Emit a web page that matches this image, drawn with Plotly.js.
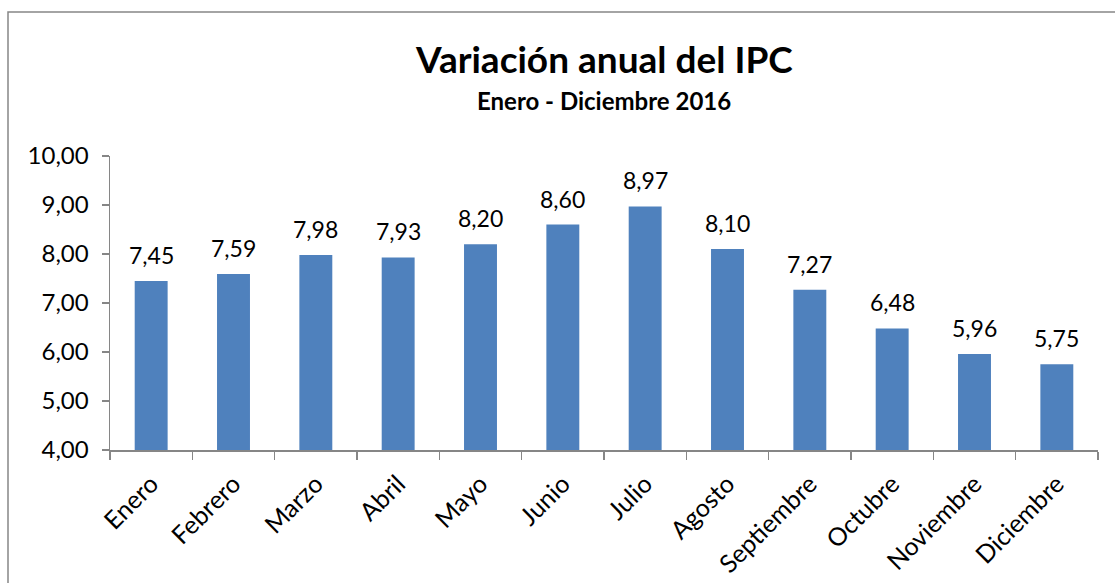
<!DOCTYPE html>
<html><head><meta charset="utf-8">
<script src="https://cdn.plot.ly/plotly-3.0.1.min.js"></script>
<style>html,body{margin:0;padding:0;background:#fff}#chart{width:1115px;height:583px}</style>
</head><body><div id="chart"></div>
<script>
const months = ["Enero","Febrero","Marzo","Abril","Mayo","Junio","Julio","Agosto","Septiembre","Octubre","Noviembre","Diciembre"];
const ipc = [7.45,7.59,7.98,7.93,8.20,8.60,8.97,8.10,7.27,6.48,5.96,5.75];
const yTicks = [4,5,6,7,8,9,10];
const yTickLabels = ["4,00","5,00","6,00","7,00","8,00","9,00","10,00"];
const titleText = "Variación anual del IPC";
const subtitleText = "Enero - Diciembre 2016";

const FONT = "Lato, 'Open Sans', sans-serif";
const fmt = v => v.toFixed(2).replace(".", ",");

const annotations = months.map((m,i)=>({
  x: m, y: ipc[i], xref:'x', yref:'y', text: fmt(ipc[i]), showarrow:false,
  yanchor:'bottom', yshift:10, font:{family:FONT,size:23,color:'#000'}
}));
annotations.push({xref:'paper',yref:'paper',x:0.5,y:1+(156-58)/294,text:'<b>'+titleText+'</b>',showarrow:false,yanchor:'middle',font:{family:FONT,size:37,color:'#000'}});
annotations.push({xref:'paper',yref:'paper',x:0.5,y:1+(156-100)/294,text:'<b>'+subtitleText+'</b>',showarrow:false,yanchor:'middle',font:{family:FONT,size:24,color:'#000'}});

const layout = {
  width:1115, height:583,
  margin:{l:110, r:17, t:156, b:133},
  paper_bgcolor:'#fff', plot_bgcolor:'#fff',
  showlegend:false,
  bargap:0.6,
  separators:',.',
  xaxis:{type:'category', showgrid:false, zeroline:false, showline:true, linecolor:'#868686', linewidth:1.5,
    ticks:'outside', tickson:'boundaries', ticklen:8, tickcolor:'#868686', tickwidth:1.5, ticklabelstandoff:8,
    tickangle:-45, tickfont:{family:FONT,size:25,color:'#000'}},
  yaxis:{range:[4,10], showgrid:false, zeroline:false, showline:true, linecolor:'#868686', linewidth:1.5,
    ticks:'outside', ticklen:7, tickcolor:'#868686', tickwidth:1.5, ticklabelstandoff:8,
    tickvals:yTicks, ticktext:yTickLabels, tickfont:{family:FONT,size:24,color:'#000'}},
  annotations: annotations,
  shapes:[{type:'rect', xref:'paper', yref:'paper', x0:(8-110)/988, x1:1.2, y0:-1, y1:1+(156-12)/294,
    line:{color:'#868686', width:1.5}, fillcolor:'rgba(0,0,0,0)', layer:'below'}]
};

Plotly.newPlot('chart', [{type:'bar', x:months, y:ipc, marker:{color:'#4F81BD'}, hoverinfo:'none'}], layout, {staticPlot:true});
</script></body></html>
